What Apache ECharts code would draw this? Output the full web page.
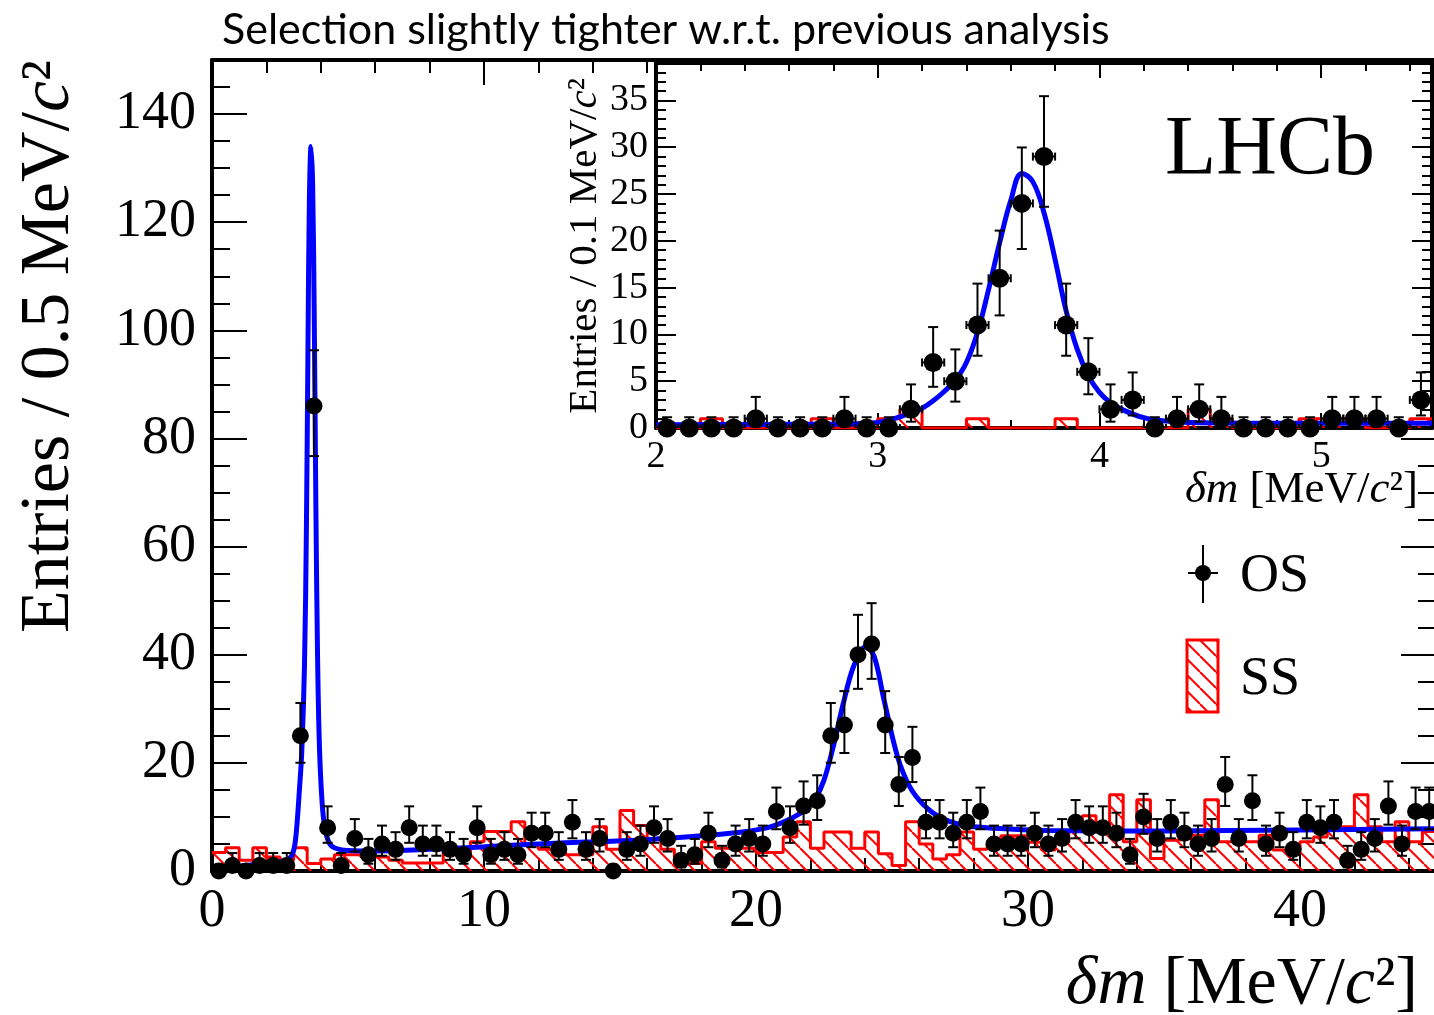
<!DOCTYPE html>
<html>
<head>
<meta charset="utf-8">
<script src="https://cdn.jsdelivr.net/npm/echarts@6/dist/echarts.min.js"></script>
<style>
html, body { margin: 0; padding: 0; background: #fff; }
#chart { width: 1434px; height: 1015px; }
</style>
</head>
<body>
<div id="chart"></div>
<script>
// ---- Full range: 0.5 MeV/c^2 bins starting at 0 ----
const mainLow = 0;
const mainBinWidth = 0.5;
// opposite-sign (OS) candidates per bin
const osCounts = [
  0, 1, 0, 1, 1, 1, 25, 86, 8, 1,
  6, 3, 5, 4, 8, 5, 5, 4, 3, 8,
  3, 4, 3, 7, 7, 4, 9, 4, 6, 0,
  4, 5, 8, 6, 2, 3, 7, 2, 5, 6,
  5, 11, 8, 12, 13, 25, 27, 40, 42, 27,
  16, 21, 9, 9, 7, 9, 11, 5, 5, 5,
  7, 5, 6, 9, 8, 8, 7, 3, 10, 6,
  9, 7, 5, 6, 16, 6, 13, 5, 7, 4,
  9, 8, 9, 2, 4, 6, 12, 5, 11, 11
];
// same-sign (SS) histogram contents per bin
const ssLevels = [
  3.4, 4.3, 2.0, 4.3, 2.6, 2.0, 4.3, 1.4, 2.2, 3.0,
  3.0, 3.3, 2.6, 2.0, 1.5, 1.5, 1.5, 4.2, 3.0, 5.4,
  7.3, 7.3, 9.1, 5.0, 4.0, 3.5, 3.0, 3.0, 8.2, 4.0,
  11.2, 8.4, 6.0, 4.0, 1.4, 1.4, 5.4, 4.2, 4.2, 4.2,
  3.4, 3.4, 6.3, 9.1, 4.2, 7.2, 7.2, 4.2, 7.2, 3.2,
  1.0, 9.1, 5.0, 2.2, 3.0, 7.2, 4.0, 5.0, 6.5, 6.5,
  5.3, 3.9, 5.3, 7.3, 10.2, 7.3, 14.1, 5.4, 13.2, 2.3,
  5.7, 6.0, 6.6, 13.2, 5.4, 5.4, 5.4, 6.6, 3.9, 3.9,
  5.4, 6.3, 8.2, 8.2, 14.1, 8.2, 5.4, 9.1, 5.4, 7.3
];
// fitted model, [delta m, entries per bin]
const fitMain = [
  [0, 0.3], [0.5, 0.6], [1, 0.9], [1.5, 1.15], [2, 1.4], [2.5, 1.7], [2.8, 2.2],
  [2.95, 3], [3.05, 5], [3.13, 9], [3.2, 14], [3.3, 22], [3.4, 38], [3.47, 63],
  [3.53, 98], [3.58, 124], [3.64, 134], [3.7, 127], [3.76, 102], [3.82, 67],
  [3.88, 40], [3.95, 23], [4.05, 12.5], [4.15, 8], [4.3, 5.3], [4.5, 4.3], [5, 3.8],
  [6, 3.7], [8, 4.0], [10, 4.5], [12, 5.0], [14, 5.4], [16, 5.8], [18, 6.5],
  [19.5, 7.2], [20.5, 8.1], [21.25, 9.6], [21.8, 11.3], [22.2, 13.6], [22.5, 16.8],
  [22.84, 23.0], [23.2, 30.8], [23.6, 38.0], [24.05, 41.5], [24.35, 39.6],
  [24.7, 31.8], [25.2, 21.2], [25.65, 15.6], [26.15, 12.3], [26.75, 10], [27.6, 8.5],
  [28.8, 7.9], [30.7, 7.5], [35, 7.4], [40, 7.6], [45, 7.8]
];

// ---- Zoom on the first peak: 0.1 MeV/c^2 bins starting at 2 ----
const insetLow = 2.0;
const insetBinWidth = 0.1;
const osInset = [
  0, 0, 0, 0, 1, 0, 0, 0, 1, 0,
  0, 2, 7, 5, 11, 16, 24, 29, 11, 6,
  2, 3, 0, 1, 2, 1, 0, 0, 0, 0,
  1, 1, 1, 0, 3
];
const ssInset = [
  0, 0, 1, 0, 0, 0, 0, 1, 0, 0,
  1, 2, 0, 0, 1, 0, 0, 0, 1, 0,
  0, 0, 0, 0, 2, 1, 0, 0, 0, 1,
  1, 1, 0, 0, 1
];
const fitInset = [
  [2.0, 0.35], [2.5, 0.38], [2.9, 0.45], [3.0, 0.6], [3.05, 0.85], [3.1, 1.2],
  [3.15, 1.6], [3.2, 2.1], [3.25, 2.9], [3.3, 3.9], [3.35, 5.1], [3.4, 7.0],
  [3.45, 10.2], [3.5, 14.8], [3.55, 19.8], [3.6, 24.3], [3.65, 27.2], [3.7, 26.3],
  [3.75, 23.0], [3.8, 18.0], [3.85, 12.5], [3.9, 8.4], [3.95, 5.6], [4.0, 3.8],
  [4.05, 2.7], [4.1, 2.0], [4.2, 1.1], [4.3, 0.75], [4.45, 0.55], [4.8, 0.5], [5.5, 0.5]
];

// axis ranges and tick spacing
const mainX = { min: 0, max: 45, major: 10, minor: 2 };
const mainY = { min: 0, max: 150, major: 20, minor: 5 };
const insetX = { min: 2, max: 5.5, major: 1, minor: 0.2 };
const insetY = { min: 0, max: 39, major: 5, minor: 1 };

const SERIF = 'Liberation Serif';
const RED = '#ff0000';
const BLUE = '#0000ff';

// diagonal red hatching used to fill the SS histogram
const hatch = (function () {
  const s = 16;
  const c = document.createElement('canvas');
  c.width = s; c.height = s;
  const g = c.getContext('2d');
  g.strokeStyle = RED;
  g.lineWidth = 2;
  for (let k = -1; k <= 1; k++) {
    g.beginPath();
    g.moveTo(k * s, 0);
    g.lineTo(k * s + s, s);
    g.stroke();
  }
  return c;
})();

// Poisson 68% interval for a bin content
function poissonInterval(n) {
  if (n === 0) return [0, 1.15];
  return [n - Math.sqrt(n - 0.25), n + Math.sqrt(n + 0.75) + 1];
}

function binCentres(counts, low, width) {
  return counts.map((n, i) => [low + (i + 0.5) * width, n]);
}
function errorRows(counts, low, width) {
  return counts.map((n, i) => {
    const iv = poissonInterval(n);
    return [low + (i + 0.5) * width, n, iv[0], iv[1], width / 2];
  });
}
function stepOutline(levels, low, width) {
  const pts = [];
  levels.forEach((v, i) => {
    const a = +(low + i * width).toFixed(6);
    const b = +(low + (i + 1) * width).toFixed(6);
    pts.push([a, v], [b, v]);
  });
  return pts;
}

// vertical (and optionally horizontal) error bars with end caps
function errorBarRenderer(capHalf, withXBar, xCap) {
  return function (params, api) {
    const x = api.value(0), y = api.value(1), lo = api.value(2), hi = api.value(3), hw = api.value(4);
    const pLo = api.coord([x, lo]);
    const pHi = api.coord([x, hi]);
    const st = { stroke: '#000', lineWidth: 2 };
    const children = [
      { type: 'line', shape: { x1: pLo[0], y1: pLo[1], x2: pHi[0], y2: pHi[1] }, style: st },
      { type: 'line', shape: { x1: pLo[0] - capHalf, y1: pLo[1], x2: pLo[0] + capHalf, y2: pLo[1] }, style: st },
      { type: 'line', shape: { x1: pHi[0] - capHalf, y1: pHi[1], x2: pHi[0] + capHalf, y2: pHi[1] }, style: st }
    ];
    if (withXBar) {
      const pL = api.coord([x - hw, y]);
      const pR = api.coord([x + hw, y]);
      children.push(
        { type: 'line', shape: { x1: pL[0], y1: pL[1], x2: pR[0], y2: pR[1] }, style: st },
        { type: 'line', shape: { x1: pL[0], y1: pL[1] - xCap, x2: pL[0], y2: pL[1] + xCap }, style: st },
        { type: 'line', shape: { x1: pR[0], y1: pR[1] - xCap, x2: pR[0], y2: pR[1] + xCap }, style: st }
      );
    }
    return { type: 'group', children: children };
  };
}

// one axis per side for major ticks (with frame line) and one for minor ticks
function frameAxis(grid, pos, range, step, tickLen, opts) {
  opts = opts || {};
  return {
    type: 'value',
    gridIndex: grid,
    position: pos,
    min: range.min,
    max: range.max,
    interval: step,
    zlevel: opts.zlevel || 0,
    axisLine: { show: !!opts.line, onZero: false, lineStyle: { color: '#000', width: 4 } },
    axisTick: { show: true, inside: true, length: tickLen, lineStyle: { color: '#000', width: 2 } },
    axisLabel: opts.label ? Object.assign({
      show: true, color: '#000', fontFamily: SERIF, showMaxLabel: false
    }, opts.label) : { show: false },
    splitLine: { show: false }
  };
}

const xAxes = [
  // main frame
  frameAxis(0, 'bottom', mainX, mainX.major, 25, { line: true, label: { fontSize: 54, margin: 14 } }),
  frameAxis(0, 'bottom', mainX, mainX.minor, 13),
  frameAxis(0, 'top', mainX, mainX.major, 25, { line: true }),
  frameAxis(0, 'top', mainX, mainX.minor, 13),
  // zoomed frame
  frameAxis(1, 'bottom', insetX, insetX.major, 15, { line: true, zlevel: 1, label: { fontSize: 38, margin: 10, formatter: v => String(Math.round(v)) } }),
  frameAxis(1, 'bottom', insetX, insetX.minor, 8, { zlevel: 1 }),
  frameAxis(1, 'top', insetX, insetX.major, 15, { line: true, zlevel: 1 }),
  frameAxis(1, 'top', insetX, insetX.minor, 8, { zlevel: 1 })
];
const yAxes = [
  frameAxis(0, 'left', mainY, mainY.major, 35, { line: true, label: { fontSize: 54, margin: 16 } }),
  frameAxis(0, 'left', mainY, mainY.minor, 18),
  frameAxis(0, 'right', mainY, mainY.major, 35, { line: true }),
  frameAxis(0, 'right', mainY, mainY.minor, 18),
  frameAxis(1, 'left', insetY, insetY.major, 20, { line: true, zlevel: 1, label: { fontSize: 38, margin: 8 } }),
  frameAxis(1, 'left', insetY, insetY.minor, 10, { zlevel: 1 }),
  frameAxis(1, 'right', insetY, insetY.major, 20, { line: true, zlevel: 1 }),
  frameAxis(1, 'right', insetY, insetY.minor, 10, { zlevel: 1 })
];

function richWithSize(size) {
  return {
    a: { fontFamily: SERIF, fontSize: size, color: '#000' },
    i: { fontFamily: SERIF, fontSize: size, fontStyle: 'italic', color: '#000' }
  };
}

const chart = echarts.init(document.getElementById('chart'), null, { renderer: 'canvas' });

chart.setOption({
  animation: false,
  backgroundColor: '#fff',
  grid: [
    { left: 212, top: 60, width: 1224, height: 811, containLabel: false, outerBoundsMode: 'none' },
    { left: 656, top: 63, width: 776, height: 365, containLabel: false, outerBoundsMode: 'none',
      show: true, backgroundColor: '#fff', borderWidth: 0, zlevel: 1 }
  ],
  xAxis: xAxes,
  yAxis: yAxes,
  series: [
    {
      name: 'SS', type: 'line', xAxisIndex: 0, yAxisIndex: 0,
      data: stepOutline(ssLevels, mainLow, mainBinWidth),
      showSymbol: false, symbol: 'none',
      lineStyle: { color: RED, width: 3 },
      areaStyle: { color: { image: hatch, repeat: 'repeat' }, opacity: 1 },
      z: 2
    },
    {
      name: 'fit', type: 'line', xAxisIndex: 0, yAxisIndex: 0,
      data: fitMain, showSymbol: false, symbol: 'none',
      smooth: 0.35,
      lineStyle: { color: BLUE, width: 5 }, z: 3
    },
    {
      name: 'OS err', type: 'custom', xAxisIndex: 0, yAxisIndex: 0,
      data: errorRows(osCounts, mainLow, mainBinWidth),
      renderItem: errorBarRenderer(5, false, 0), z: 4, clip: true
    },
    {
      name: 'OS', type: 'scatter', xAxisIndex: 0, yAxisIndex: 0,
      data: binCentres(osCounts, mainLow, mainBinWidth),
      symbol: 'circle', symbolSize: 17, itemStyle: { color: '#000', opacity: 1 }, z: 5
    },
    // zoomed view
    {
      name: 'SS zoom', type: 'line', xAxisIndex: 4, yAxisIndex: 4, zlevel: 1,
      data: stepOutline(ssInset, insetLow, insetBinWidth),
      showSymbol: false, symbol: 'none',
      lineStyle: { color: RED, width: 3 },
      areaStyle: { color: { image: hatch, repeat: 'repeat' }, opacity: 1 },
      z: 2
    },
    {
      name: 'fit zoom', type: 'line', xAxisIndex: 4, yAxisIndex: 4, zlevel: 1,
      data: fitInset, showSymbol: false, symbol: 'none',
      smooth: 0.4,
      lineStyle: { color: BLUE, width: 5 }, z: 3
    },
    {
      name: 'OS err zoom', type: 'custom', xAxisIndex: 4, yAxisIndex: 4, zlevel: 1,
      data: errorRows(osInset, insetLow, insetBinWidth),
      renderItem: errorBarRenderer(5, true, 4), z: 4, clip: true
    },
    {
      name: 'OS zoom', type: 'scatter', xAxisIndex: 4, yAxisIndex: 4, zlevel: 1,
      data: binCentres(osInset, insetLow, insetBinWidth),
      symbol: 'circle', symbolSize: 19, itemStyle: { color: '#000', opacity: 1 }, z: 5
    }
  ],
  graphic: {
    elements: [
      {
        type: 'text', x: 222, y: 30, zlevel: 2,
        style: { text: 'Selection slightly tighter w.r.t. previous analysis', fontFamily: 'Lato', fontSize: 43, fill: '#000', align: 'left', verticalAlign: 'middle' }
      },
      {
        type: 'text', x: 50, y: 60, rotation: Math.PI / 2, zlevel: 2,
        style: {
          text: '{a|Entries / 0.5 MeV/}{i|c}{a|²}', rich: richWithSize(70),
          align: 'right', verticalAlign: 'middle'
        }
      },
      {
        type: 'text', x: 1418, y: 985, zlevel: 2,
        style: {
          text: '{i|δm}{a| [MeV/}{i|c}{a|²]}', rich: richWithSize(68),
          align: 'right', verticalAlign: 'middle'
        }
      },
      {
        type: 'text', x: 585, y: 78, rotation: Math.PI / 2, zlevel: 2,
        style: {
          text: '{a|Entries / 0.1 MeV/}{i|c}{a|²}', rich: richWithSize(41),
          align: 'right', verticalAlign: 'middle'
        }
      },
      {
        type: 'text', x: 1418, y: 490, zlevel: 2,
        style: {
          text: '{i|δm}{a| [MeV/}{i|c}{a|²]}', rich: richWithSize(45),
          align: 'right', verticalAlign: 'middle'
        }
      },
      {
        type: 'text', x: 1165, y: 152, zlevel: 2,
        style: { text: 'LHCb', fontFamily: SERIF, fontSize: 84, fill: '#000', align: 'left', verticalAlign: 'middle' }
      },
      // legend: OS marker with error cross
      { type: 'line', zlevel: 2, shape: { x1: 1203, y1: 545, x2: 1203, y2: 603 }, style: { stroke: '#000', lineWidth: 2 } },
      { type: 'line', zlevel: 2, shape: { x1: 1188, y1: 573, x2: 1218, y2: 573 }, style: { stroke: '#000', lineWidth: 2 } },
      { type: 'circle', zlevel: 2, shape: { cx: 1203, cy: 573, r: 8 }, style: { fill: '#000' } },
      {
        type: 'text', x: 1240, y: 577, zlevel: 2,
        style: { text: 'OS', fontFamily: SERIF, fontSize: 54, fill: '#000', align: 'left', verticalAlign: 'middle' }
      },
      // legend: SS hatched box
      {
        type: 'rect', zlevel: 2, shape: { x: 1187, y: 640, width: 31, height: 72 },
        style: { fill: { image: hatch, repeat: 'repeat' }, stroke: RED, lineWidth: 3 }
      },
      {
        type: 'text', x: 1240, y: 680, zlevel: 2,
        style: { text: 'SS', fontFamily: SERIF, fontSize: 54, fill: '#000', align: 'left', verticalAlign: 'middle' }
      }
    ]
  }
});
</script>
</body>
</html>
